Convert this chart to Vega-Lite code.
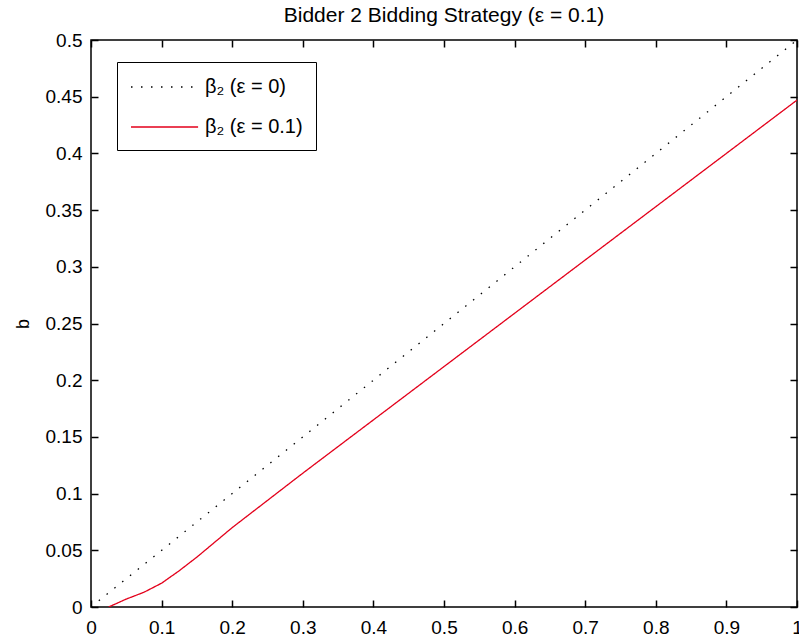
{
  "$schema": "https://vega.github.io/schema/vega-lite/v6.json",
  "autosize": {"type": "none"},
  "width": 706,
  "height": 567,
  "padding": {"left": 91, "top": 40, "right": 2, "bottom": 33},
  "background": "white",
  "title": {"text": "Bidder 2 Bidding Strategy (ε = 0.1)", "fontSize": 21, "fontWeight": "normal", "font": "Liberation Sans", "color": "black", "anchor": "middle", "baseline": "alphabetic", "offset": 17, "dy": 29},
  "config": {
    "view": {"stroke": "black", "strokeWidth": 1.5},
    "axis": {"grid": false, "domain": false, "tickColor": "black", "tickWidth": 1.5, "labelColor": "black", "labelFont": "Liberation Sans", "labelFontSize": 19, "titleFont": "Liberation Sans", "titleColor": "black", "titleFontWeight": "normal", "titleFontSize": 18}
  },
  "data": {"values": [
    {"v": 0.0, "b": 0.0, "series": "β₂ (ε = 0)"},
    {"v": 1.0, "b": 0.5, "series": "β₂ (ε = 0)"},
    {"v": 0.025, "b": 0.0, "series": "β₂ (ε = 0.1)"},
    {"v": 0.05, "b": 0.007, "series": "β₂ (ε = 0.1)"},
    {"v": 0.075, "b": 0.013, "series": "β₂ (ε = 0.1)"},
    {"v": 0.1, "b": 0.021, "series": "β₂ (ε = 0.1)"},
    {"v": 0.125, "b": 0.032, "series": "β₂ (ε = 0.1)"},
    {"v": 0.15, "b": 0.044, "series": "β₂ (ε = 0.1)"},
    {"v": 0.2, "b": 0.07, "series": "β₂ (ε = 0.1)"},
    {"v": 0.3, "b": 0.118, "series": "β₂ (ε = 0.1)"},
    {"v": 0.4, "b": 0.165, "series": "β₂ (ε = 0.1)"},
    {"v": 0.5, "b": 0.212, "series": "β₂ (ε = 0.1)"},
    {"v": 0.6, "b": 0.259, "series": "β₂ (ε = 0.1)"},
    {"v": 0.7, "b": 0.306, "series": "β₂ (ε = 0.1)"},
    {"v": 0.8, "b": 0.353, "series": "β₂ (ε = 0.1)"},
    {"v": 0.9, "b": 0.4, "series": "β₂ (ε = 0.1)"},
    {"v": 1.0, "b": 0.447, "series": "β₂ (ε = 0.1)"}
  ]},
  "resolve": {"axis": {"x": "independent", "y": "independent"}},
  "layer": [
    {
      "mark": {"type": "line", "strokeWidth": 1.3, "clip": true},
      "encoding": {
        "x": {"field": "v", "type": "quantitative", "scale": {"domain": [0, 1], "nice": false, "zero": false},
              "axis": {"orient": "bottom", "title": null, "values": [0,0.1,0.2,0.3,0.4,0.5,0.6,0.7,0.8,0.9,1], "labelExpr": "format(datum.value, '.1~f')", "tickSize": -7, "labelPadding": 18, "labelFlush": false}},
        "y": {"field": "b", "type": "quantitative", "scale": {"domain": [0, 0.5], "nice": false, "zero": false},
              "axis": {"orient": "left", "title": "b", "values": [0,0.05,0.1,0.15,0.2,0.25,0.3,0.35,0.4,0.45,0.5], "labelExpr": "format(datum.value, '.2~f')", "tickSize": -7, "labelPadding": 16, "labelFlush": false, "titlePadding": 13}},
        "color": {"field": "series", "type": "nominal", "scale": {"domain": ["β₂ (ε = 0)", "β₂ (ε = 0.1)"], "range": ["black", "#e3001b"]},
                  "legend": {"title": null, "orient": "none", "legendX": 26, "legendY": 22, "strokeColor": "black", "fillColor": "white", "padding": 13, "symbolType": "M-1,0H5.1", "symbolSize": 484, "symbolStrokeWidth": 1.3, "labelFontSize": 20, "labelFont": "Liberation Sans", "labelColor": "black", "labelOffset": 51, "rowPadding": 18}},
        "strokeDash": {"field": "series", "type": "nominal", "scale": {"domain": ["β₂ (ε = 0)", "β₂ (ε = 0.1)"], "range": [[1.5, 8.5], [1, 0]]}, "legend": null}
      }
    },
    {
      "mark": {"type": "point", "opacity": 0},
      "encoding": {
        "x": {"field": "v", "type": "quantitative", "axis": {"orient": "top", "title": null, "labels": false, "values": [0,0.1,0.2,0.3,0.4,0.5,0.6,0.7,0.8,0.9,1], "tickSize": -7}},
        "y": {"field": "b", "type": "quantitative", "axis": {"orient": "right", "title": null, "labels": false, "values": [0,0.05,0.1,0.15,0.2,0.25,0.3,0.35,0.4,0.45,0.5], "tickSize": -7}}
      }
    }
  ]
}
